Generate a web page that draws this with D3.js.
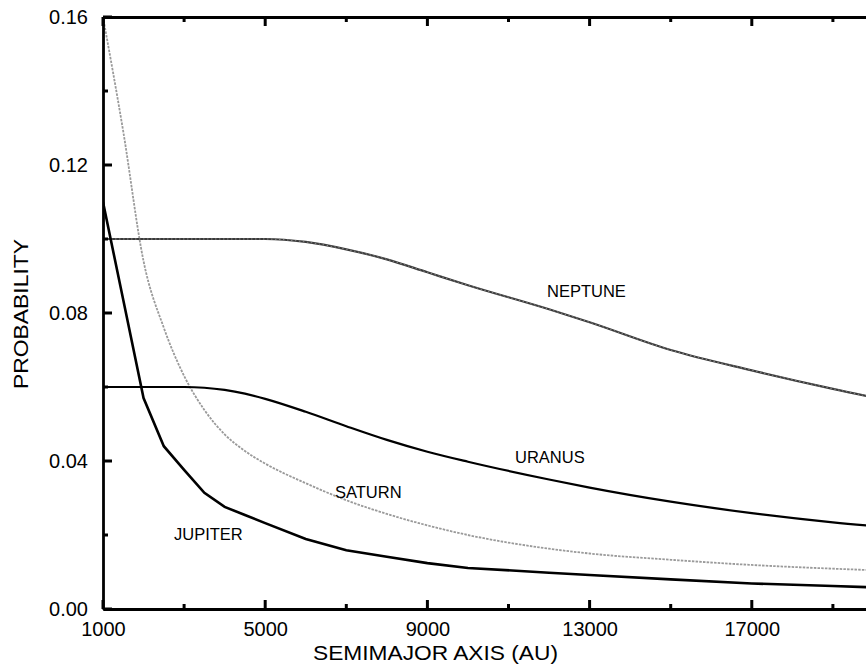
<!DOCTYPE html>
<html>
<head>
<meta charset="utf-8">
<script src="https://cdn.jsdelivr.net/npm/d3@7"></script>
<style>
  html, body { margin: 0; padding: 0; background: #fff; }
  svg { display: block; font-family: "Liberation Sans", Arial, Helvetica, sans-serif; }
</style>
</head>
<body>
<svg id="chart" width="866" height="667"></svg>
<script>
// ---- data ----
const semimajorAxis = [1000, 1500, 2000, 2500, 3000, 3500, 4000, 4500, 5000, 6000, 7000, 8000, 9000, 10000, 12000, 13000, 15000, 17000, 19000, 21000];
const jupiter = [0.110, 0.0835, 0.057, 0.044, 0.0376, 0.0314, 0.0276, 0.0254, 0.0232, 0.0189, 0.0159, 0.0141, 0.0124, 0.0111, 0.0098, 0.0092, 0.0080, 0.0069, 0.0062, 0.0055];
const saturn  = [0.160, 0.129, 0.094, 0.076, 0.0630, 0.0538, 0.0472, 0.0427, 0.0393, 0.0340, 0.0294, 0.0257, 0.0226, 0.0200, 0.0163, 0.0150, 0.0133, 0.0119, 0.0109, 0.0101];
const uranus  = [0.060, 0.060, 0.060, 0.060, 0.060, 0.0598, 0.0592, 0.0582, 0.0568, 0.0533, 0.0494, 0.0457, 0.0425, 0.0398, 0.0350, 0.0328, 0.0290, 0.0259, 0.0234, 0.0215];
const neptune = [0.100, 0.100, 0.100, 0.100, 0.100, 0.100, 0.100, 0.100, 0.100, 0.0992, 0.0972, 0.0945, 0.0910, 0.0875, 0.0810, 0.0775, 0.0700, 0.0645, 0.0595, 0.0550];
const seriesNames = ["NEPTUNE", "URANUS", "SATURN", "JUPITER"];
const xTickValues = [1000, 5000, 9000, 13000, 17000];
const xMinorTicks = [3000, 7000, 11000, 15000, 19000];
const yTickValues = [0.00, 0.04, 0.08, 0.12, 0.16];
const yMinorTicks = [0.02, 0.06, 0.10, 0.14];
const xTitle = "SEMIMAJOR AXIS (AU)";
const yTitle = "PROBABILITY";

(function () {
// ---- layout ----
const svg = d3.select("#chart");
const pLeft = 103, pRight = 914, pTop = 17, pBottom = 609;
const x = d3.scaleLinear().domain([1000, 21000]).range([pLeft, pRight]);
const y = d3.scaleLinear().domain([0, 0.16]).range([pBottom, pTop]);

const plot = svg.append("g");
plot.append("clipPath").attr("id", "clip")
  .append("rect").attr("x", pLeft).attr("y", pTop - 2).attr("width", pRight - pLeft).attr("height", pBottom - pTop + 2);

const lineMaker = (vals, curve) => d3.line()
  .x((d, i) => x(semimajorAxis[i]))
  .y(d => y(d))
  .curve(curve)(vals);

const lines = plot.append("g").attr("clip-path", "url(#clip)");
lines.append("path").attr("d", lineMaker(saturn, d3.curveMonotoneX))
  .attr("fill", "none").attr("stroke", "#9a9a9a").attr("stroke-width", 1.8)
  .attr("stroke-dasharray", "2.5,1.2");
lines.append("path").attr("d", lineMaker(neptune, d3.curveMonotoneX))
  .attr("fill", "none").attr("stroke", "#3a3a3a").attr("stroke-width", 2.2);
lines.append("path").attr("d", lineMaker(neptune, d3.curveMonotoneX))
  .attr("fill", "none").attr("stroke", "#8a8a8a").attr("stroke-width", 1)
  .attr("stroke-dasharray", "1.5,2.5");
lines.append("path").attr("d", lineMaker(uranus, d3.curveMonotoneX))
  .attr("fill", "none").attr("stroke", "#000").attr("stroke-width", 2.2);
lines.append("path").attr("d", lineMaker(jupiter, d3.curveLinear))
  .attr("fill", "none").attr("stroke", "#000").attr("stroke-width", 2.6);

// ---- axes (labels + frame) ----
const fontAxis = 20;
const xBottom = d3.axisBottom(x).tickValues(xTickValues).tickSize(0).tickPadding(13).tickFormat(d3.format("d"));
svg.append("g").attr("transform", `translate(0,${pBottom})`).call(xBottom);
const xTop = d3.axisTop(x).tickValues([]).tickSize(0);
svg.append("g").attr("transform", `translate(0,${pTop})`).call(xTop);
const yLeft = d3.axisLeft(y).tickValues(yTickValues).tickSize(0).tickPadding(15).tickFormat(d3.format(".2f"));
svg.append("g").attr("transform", `translate(${pLeft},0)`).call(yLeft);
const yRight = d3.axisRight(y).tickValues([]).tickSize(0);
svg.append("g").attr("transform", `translate(${pRight},0)`).call(yRight);

svg.selectAll(".domain").attr("stroke", "#000").attr("stroke-width", 2.8);
svg.selectAll(".tick text").attr("fill", "#000").attr("font-size", fontAxis)
  .attr("font-family", "\"Liberation Sans\", Arial, sans-serif");

// ---- inward tick marks ----
const tg = svg.append("g");
const tick = (x1, y1, x2, y2) => tg.append("line")
  .attr("x1", x1).attr("y1", y1).attr("x2", x2).attr("y2", y2)
  .attr("stroke", "#000").attr("stroke-width", 3);
xTickValues.map(v => [v, 9]).concat(xMinorTicks.map(v => [v, 5])).forEach(([v, len]) => {
  tick(x(v), pBottom, x(v), pBottom - len);
  tick(x(v), pTop, x(v), pTop + len);
});
yTickValues.map(v => [v, 9]).concat(yMinorTicks.map(v => [v, 5])).forEach(([v, len]) => {
  tick(pLeft, y(v), pLeft + len, y(v));
  tick(pRight, y(v), pRight - len, y(v));
});

// ---- titles ----
svg.append("text").attr("x", 435.5).attr("y", 660).attr("text-anchor", "middle")
  .attr("font-size", 21).attr("textLength", 245).attr("lengthAdjust", "spacingAndGlyphs")
  .text(xTitle);
svg.append("text").attr("transform", "translate(28,314) rotate(-90)").attr("text-anchor", "middle")
  .attr("font-size", 21).attr("textLength", 150).attr("lengthAdjust", "spacingAndGlyphs")
  .text(yTitle);

// ---- curve labels ----
const labelPos = [[547, 297], [515, 463], [335, 498], [174, 540]];
seriesNames.forEach((name, i) => {
  svg.append("text").attr("x", labelPos[i][0]).attr("y", labelPos[i][1])
    .attr("font-size", 16.5).attr("fill", "#000").text(name);
});
})();
</script>
</body>
</html>
